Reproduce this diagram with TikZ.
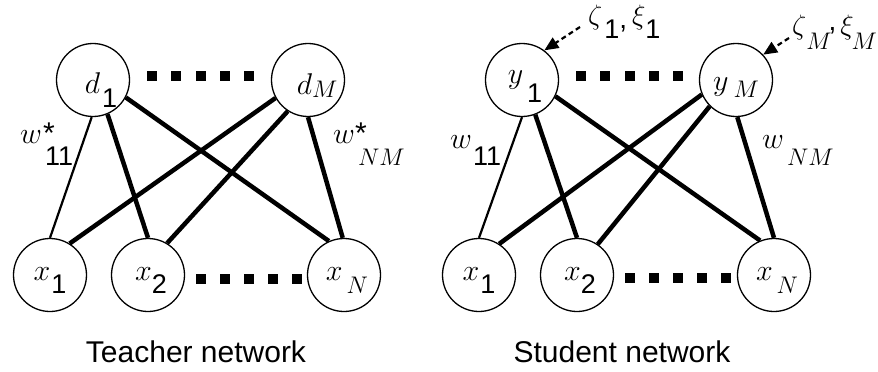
\documentclass[tikz,border=0pt]{standalone}
\usepackage{fontspec}
\setmainfont{Liberation Sans}
\usetikzlibrary{arrows.meta}
% scalable math italic for the large labels
\DeclareFontShape{OML}{cmm}{m}{it}{<->cmmi12}{}

\newcommand{\lowsub}[2]{\raisebox{-#1}{\fontsize{27}{30}\selectfont #2}}
\newcommand{\lowit}[2]{\raisebox{-#1}{\fontsize{24}{28}\selectfont $#2$}}

\tikzset{
  unit/.style={draw, circle, line width=1.3pt, minimum size=73pt, inner sep=0pt,
    text height=0pt, text depth=0pt, font=\fontsize{30}{36}\selectfont},
  thinw/.style={line width=2.2pt},
  thickw/.style={line width=4.5pt},
  noise/.style={line width=2.2pt, dash pattern=on 5pt off 3.5pt, -{Triangle[length=14pt,width=12pt]}},
  wlabel/.style={anchor=base west, inner sep=0pt, font=\fontsize{30}{36}\selectfont},
  caption/.style={anchor=base, inner sep=0pt, font=\fontsize{30}{36}\selectfont},
}

\begin{document}
\begin{tikzpicture}[x=1pt, y=-1pt]
\useasboundingbox (0,0) rectangle (878,372);

% teacher network
\node[unit] (d1)  at (93,80)   {\hspace{16pt}\raisebox{-13pt}{$d$\hspace{2pt}\lowsub{14pt}{1}}};
\node[unit] (dM)  at (308,80)  {\hspace{18pt}\raisebox{-14pt}{$d$\lowit{3pt}{M}}};
\node[unit] (tx1) at (50,275)  {\raisebox{-5pt}{$x$\hspace{1pt}\lowsub{13pt}{1}}};
\node[unit] (tx2) at (148,275) {\hspace{6pt}\raisebox{-5pt}{$x$\lowsub{13pt}{2}}};
\node[unit] (txN) at (344,275) {\hspace{6pt}\raisebox{-5pt}{$x$\hspace{4pt}\lowit{13pt}{N}}};

\draw[thinw]  (d1.-92)  -- (tx1.90);
\draw[thickw] (d1.-67)  -- (tx2.90);
\draw[thickw] (d1.-28)  -- (txN.114);
\draw[thickw] (dM.-151) -- (tx1.58);
\draw[thickw] (dM.-123) -- (tx2.59);
\draw[thickw] (dM.-90)  -- (txN.92);

\foreach \i in {0,...,4} {
  \fill ({147+24.3*\i},71) rectangle +(10,10);
  \fill ({196+24*\i},274) rectangle +(10,10);
}

\node[wlabel] (tw11) at (20,143)  {$w$\rlap{\hspace{1pt}*}\hspace{3pt}\lowsub{22pt}{11}};
\node[wlabel] (twNM) at (333,143) {$w$\rlap{*}\hspace{3pt}\lowit{22pt}{NM}};

\node[caption] (tcap) at (196,362) {Teacher network};

% student network
\node[unit] (y1)  at (522,80)  {\hspace{6pt}\raisebox{-3pt}{$y$\hspace{4pt}\lowsub{19pt}{1}}};
\node[unit] (yM)  at (736,80)  {\raisebox{-10pt}{$y$\hspace{5pt}\lowit{7pt}{M}}};
\node[unit] (sx1) at (479,275) {\raisebox{-5pt}{$x$\hspace{1pt}\lowsub{13pt}{1}}};
\node[unit] (sx2) at (577,275) {\hspace{6pt}\raisebox{-5pt}{$x$\lowsub{13pt}{2}}};
\node[unit] (sxN) at (774,275) {\hspace{6pt}\raisebox{-5pt}{$x$\hspace{4pt}\lowit{13pt}{N}}};

\draw[thinw]  (y1.-90)  -- (sx1.90);
\draw[thickw] (y1.-69)  -- (sx2.90);
\draw[thickw] (y1.-26)  -- (sxN.112);
\draw[thickw] (yM.-157) -- (sx1.57);
\draw[thickw] (yM.-135) -- (sx2.56);
\draw[thickw] (yM.-88)  -- (sxN.90);

\foreach \i in {0,...,4} {
  \fill ({576+24.3*\i},71) rectangle +(10,10);
  \fill ({625+24*\i},273) rectangle +(10,10);
}

\node[wlabel] (sw11) at (450,148) {$w$\hspace{1pt}\lowsub{17pt}{11}};
\node[wlabel] (swNM) at (762,148) {$w$\hspace{3pt}\lowit{17pt}{NM}};

\coordinate (n1) at (580,27);
\coordinate (nM) at (789,38);
\draw[noise] (n1) -- (y1.53);
\draw[noise] (nM) -- (yM.43);
\node[wlabel, font=\fontsize{28}{34}\selectfont] (zeta1) at (588,24)
  {$\zeta$\hspace{2pt}\lowsub{14pt}{1}\raisebox{-4pt}{,}\hspace{5pt}$\xi$\lowsub{14pt}{1}};
\node[wlabel, font=\fontsize{28}{34}\selectfont] (zetaM) at (792,34)
  {$\zeta$\lowit{16pt}{M}\hspace{-3pt}\raisebox{4pt}{,}\hspace{4pt}$\xi$\hspace{-2pt}\lowit{16pt}{M}};

\node[caption] (scap) at (622,362) {Student network};
\end{tikzpicture}
\end{document}
